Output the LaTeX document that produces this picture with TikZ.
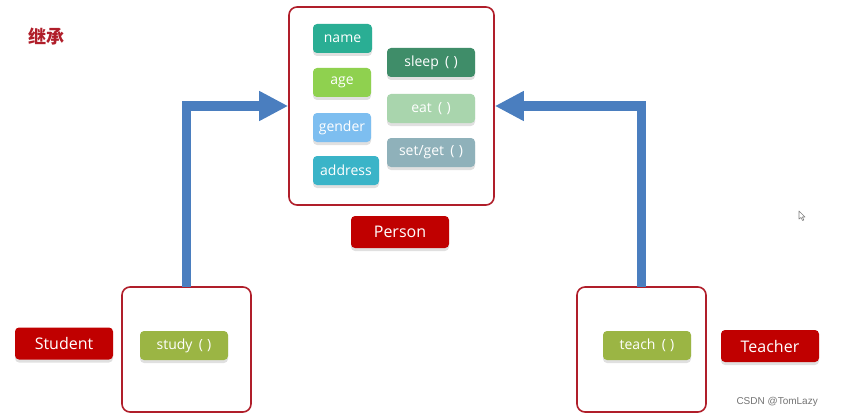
\documentclass[tikz,border=0pt]{standalone}
\usepackage{fontspec}
\setmainfont{Open Sans}
\newfontfamily\cjk{Noto Sans CJK SC}
\newfontfamily\wmfont{Liberation Sans}
\usetikzlibrary{arrows.meta,shadows}
\definecolor{frame}{HTML}{B01E2A}
\definecolor{labelred}{HTML}{C00000}
\definecolor{arrowblue}{HTML}{4A7EBF}
\definecolor{cName}{HTML}{2AAE94}
\definecolor{cAge}{HTML}{8FD14F}
\definecolor{cGender}{HTML}{7DBEF0}
\definecolor{cAddr}{HTML}{3AB4C8}
\definecolor{cSleep}{HTML}{3F8D69}
\definecolor{cEat}{HTML}{A9D5AD}
\definecolor{cSet}{HTML}{8FB1BA}
\definecolor{cMeth}{HTML}{9BB544}
% method call parentheses with wide spacing
\newcommand{\callparens}{\hspace{0.45em}(\hspace{0.3em})}
\tikzset{
  classbox/.style={draw=frame, line width=1.6pt, rounded corners=8pt, fill=white},
  pill/.style={rounded corners=4pt, minimum height=29pt, inner sep=0pt,
    text=white, font=\fontsize{14}{16}\selectfont,
    drop shadow={shadow xshift=0pt, shadow yshift=-3pt, fill=black, opacity=0.12}},
  namelabel/.style={pill, fill=labelred, rounded corners=4pt, minimum width=98pt,
    minimum height=32pt, font=\fontsize{16}{18}\selectfont},
  inherit/.style={draw=arrowblue, line width=9pt,
    -{Triangle[length=29pt,width=28pt]}},
}
\begin{document}
\begin{tikzpicture}[x=1pt,y=-1pt]
\useasboundingbox (0,0) rectangle (860,420);

% title
\node[text=frame, font=\cjk\bfseries\fontsize{18}{20}\selectfont] (title) at (46,37) {继承};

% Person class and its members
\node[classbox, minimum width=205pt, minimum height=198pt] (person) at (391.5,106) {};
\node[pill, fill=cName,   minimum width=59pt] (name)    at (342.5,38.5) {name};
\node[pill, fill=cAge,    minimum width=58pt] (age)     at (342,82.5)   {age};
\node[pill, fill=cGender, minimum width=58pt] (gender)  at (342,127.5)  {gender};
\node[pill, fill=cAddr,   minimum width=66pt] (address) at (346,170.5)  {address};
\node[pill, fill=cSleep,  minimum width=88pt] (sleep)   at (431,62.5)   {sleep\callparens};
\node[pill, fill=cEat,    minimum width=88pt] (eat)     at (431,108.5)  {eat\callparens};
\node[pill, fill=cSet,    minimum width=88pt] (setget)  at (431,152.5)  {set/get\callparens};
\node[namelabel] (personlbl) at (400,232) {Person};

% Student class
\node[classbox, minimum width=129pt, minimum height=125pt] (student) at (186.5,349.5) {};
\node[pill, fill=cMeth, minimum width=88pt] (study) at (184,345.5) {study\callparens};
\node[namelabel] (studentlbl) at (64,343.5) {Student};

% Teacher class
\node[classbox, minimum width=129pt, minimum height=125pt] (teacher) at (641.5,349.5) {};
\node[pill, fill=cMeth, minimum width=88pt] (teach) at (647,345.5) {teach\callparens};
\node[namelabel] (teacherlbl) at (770,346) {Teacher};

% inheritance arrows
\draw[inherit] ([yshift=-0.8pt]student.north) |- (person.west);
\draw[inherit] ([yshift=-0.8pt]teacher.north) |- (person.east);

% mouse pointer
\draw[gray, line width=0.6pt, fill=white, line join=round]
  (799,211) -- (799,219) -- (801,217.5) -- (802.5,220.5) -- (803.8,220) -- (802.4,217) -- (805,217) -- cycle;

% watermark
\node[text=black!55, font=\wmfont\fontsize{10}{12}\selectfont, anchor=east, inner sep=0pt] (wm) at (818,402) {CSDN @TomLazy};
\end{tikzpicture}
\end{document}
